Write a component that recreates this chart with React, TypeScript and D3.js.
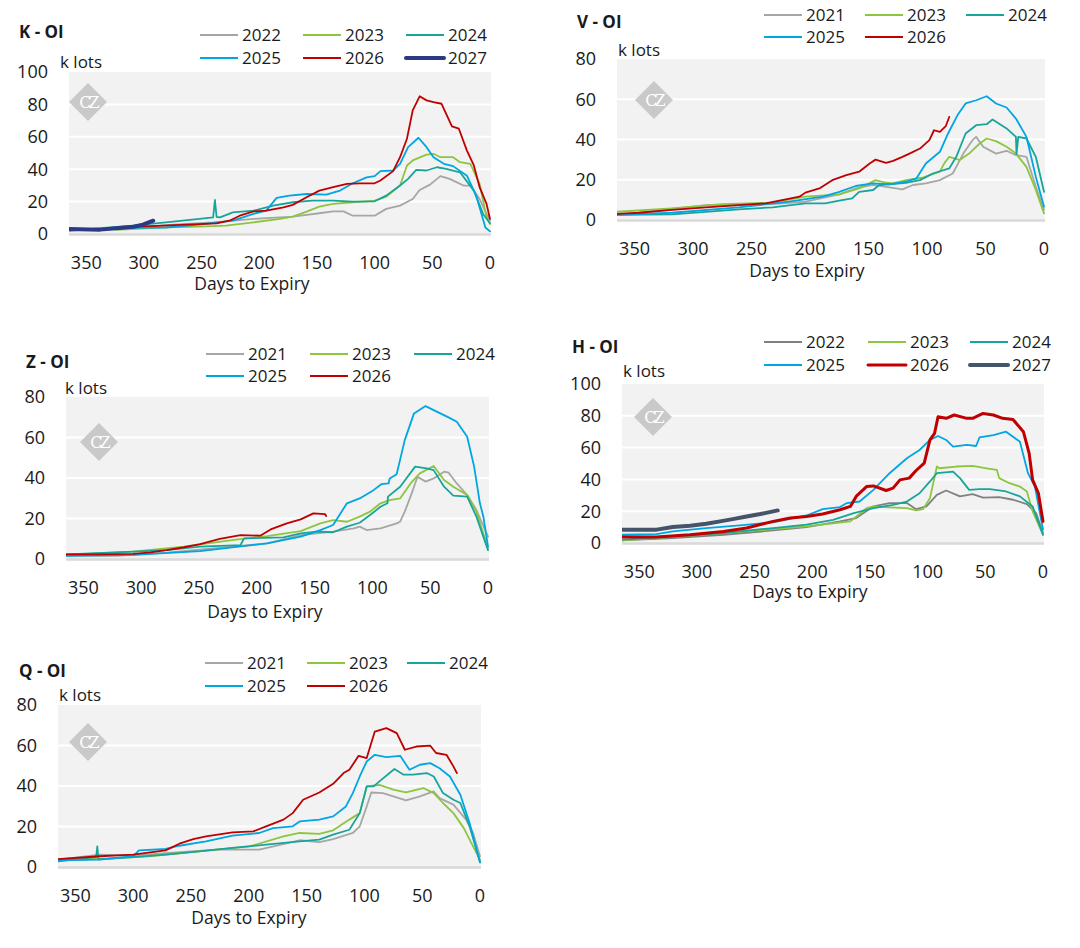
import React from 'react';
import * as d3 from 'd3';

type Pt = [number, number];

// ---- K panel (days to expiry, k lots) ----
const K_2022: Pt[] = [[304, 4.1], [275, 5.8], [240, 7.2], [205, 9.3], [171, 10.7], [148, 12.8], [136, 14], [127, 14], [119, 11.3], [100, 11.3], [90, 15.5], [78, 17.5], [67, 21.6], [61, 27.2], [52, 30.5], [43, 35.7], [35, 34], [23, 29.9], [17, 29.9], [9, 21.6], [3, 12.4], [0, 8.2]];
const K_2023: Pt[] = [[324, 2.5], [281, 4.1], [252, 4.5], [229, 5.2], [205, 7.2], [182, 9.3], [171, 10.7], [159, 13.8], [148, 16.9], [136, 18.6], [119, 19.6], [100, 20.6], [90, 23], [78, 29.9], [72, 42.3], [67, 45.4], [55, 49], [49, 49.5], [43, 47.4], [32, 47.4], [26, 44.3], [17, 43.3], [9, 31], [3, 10.3], [0, 6.2]];
const K_2024: Pt[] = [[365, 2], [310, 5.2], [281, 7.2], [252, 9.3], [240, 10.3], [238.5, 21], [237, 10.5], [234, 10.3], [223, 13.4], [205, 14.4], [188, 17.5], [171, 19.6], [154, 20.6], [136, 20.6], [119, 20], [100, 20.2], [90, 23.7], [78, 29.9], [71, 34], [64, 39.6], [55, 39.2], [46, 41.2], [38, 40.2], [26, 38.1], [14, 26.8], [6, 12.4], [0, 6.6]];
const K_2025: Pt[] = [[365, 2.5], [338, 3], [310, 3.8], [281, 4], [252, 5.8], [223, 8.2], [205, 12.4], [194, 14.4], [185, 22.3], [174, 23.7], [159, 24.7], [142, 24.3], [130, 26.8], [119, 31.3], [107, 35], [100, 35.7], [95, 38.8], [84, 39.2], [78, 43.3], [71, 53.6], [62, 59.4], [55, 53.6], [49, 47.4], [40, 43.3], [32, 41.9], [20, 36], [12, 23.7], [4, 4], [0, 1.6]];
const K_2026: Pt[] = [[310, 4.5], [289, 5], [263, 5.8], [237, 6.6], [226, 8.2], [217, 11.3], [205, 14], [194, 14.4], [179, 16.5], [171, 18], [159, 22.7], [148, 26.8], [136, 28.9], [124, 31], [113, 31.3], [100, 31.3], [95, 33], [84, 38.8], [78, 47.4], [72, 58.8], [67, 76.3], [61, 85], [55, 82.5], [49, 81.4], [42, 80.4], [33, 66.4], [27, 65], [20, 51.5], [14, 42.3], [9, 28.9], [3, 18.6], [0, 9.3]];
const K_2027: Pt[] = [[365, 3.1], [338, 2.7], [324, 3.5], [309, 4.5], [301, 5.8], [292, 8.2]];

// ---- V panel ----
const V_2021: Pt[] = [[365, 2.5], [289, 7.4], [232, 7.9], [204, 9.1], [175, 12.7], [161, 15.7], [146, 17.4], [132, 16.2], [121, 15.2], [112, 17.4], [101, 18.2], [89, 19.8], [78, 23.1], [69, 33], [61, 39.7], [58, 41.3], [52, 36.4], [41, 33], [32, 34.4], [24, 32.2], [15, 31.4], [7, 16.5], [0, 5]];
const V_2023: Pt[] = [[365, 4.1], [318, 5.8], [275, 7.9], [232, 8.6], [204, 11.6], [175, 12.7], [158, 15.7], [144, 19.8], [135, 18.5], [129, 18.2], [118, 19.8], [104, 21], [89, 24], [85, 28.4], [81, 31.4], [72, 29.8], [64, 33], [55, 38], [49, 40.5], [41, 39.2], [32, 36.4], [24, 33], [15, 26.4], [7, 14.9], [0, 3.3]];
const V_2024: Pt[] = [[365, 2.5], [318, 2.8], [289, 4], [261, 5.3], [232, 6.3], [204, 8.3], [187, 8.3], [175, 9.6], [164, 10.7], [158, 14], [146, 14.9], [141, 17.4], [118, 18.5], [106, 19.8], [95, 23.1], [81, 25.6], [75, 31.4], [67, 43], [58, 47.1], [49, 47.6], [44, 49.9], [32, 45.5], [24, 41.3], [23.5, 32.7], [22, 41.3], [15, 40.5], [7, 31.4], [0, 14]];
const V_2025: Pt[] = [[365, 2.5], [318, 3.6], [261, 6.3], [218, 9.1], [189, 11.6], [175, 14], [161, 16.9], [146, 18.2], [132, 17.7], [118, 19], [109, 20.7], [101, 28.1], [89, 33.9], [82, 43], [74, 52], [67, 57.9], [58, 59.5], [49, 61.5], [41, 57.9], [32, 55.9], [24, 50.4], [15, 41.3], [7, 21.5], [0, 6.6]];
const V_2026: Pt[] = [[365, 3], [346, 3.6], [318, 5], [289, 6.3], [261, 7.4], [238, 8.3], [224, 9.9], [209, 11.6], [204, 13.6], [192, 15.7], [181, 19.8], [169, 22.3], [158, 24], [149, 28.1], [144, 30], [135, 28.4], [129, 29.4], [121, 31.4], [115, 33], [106, 35.5], [98, 39.7], [94, 44.6], [89, 43.8], [84, 46.6], [81, 51.2]];

// ---- Z panel ----
const Z_2021: Pt[] = [[365, 1.6], [321, 1.5], [278, 3.1], [235, 5.3], [191, 7.7], [162, 11.8], [134, 13.5], [116, 15.1], [111, 16], [105, 14.3], [93, 15.1], [79, 17.6], [76, 18.4], [72, 23.4], [66, 32.4], [61, 40.6], [54, 38.2], [47, 39.8], [38, 43.1], [34, 42.6], [27, 37.3], [18, 31.6], [10, 24.2], [0, 11]];
const Z_2023: Pt[] = [[365, 2], [307, 3.6], [263, 6.1], [220, 9.4], [191, 11.3], [162, 13.8], [145, 17.6], [134, 19.2], [122, 18.4], [111, 20.9], [102, 23.4], [93, 27.5], [85, 29.1], [76, 29.9], [67, 37.3], [59, 42.3], [47, 45.9], [38, 39], [30, 35.7], [18, 31.6], [10, 23.4], [0, 5.3]];
const Z_2024: Pt[] = [[365, 2.3], [307, 3.6], [278, 4.4], [249, 6.1], [214, 6.9], [211, 10.2], [177, 10.7], [162, 12.7], [148, 13.5], [134, 13.2], [122, 16], [111, 17.9], [102, 21.7], [93, 25.8], [87, 27.5], [86.5, 30.8], [76, 35.7], [63, 45.6], [53, 44.7], [47, 43.9], [38, 35.7], [30, 31.3], [18, 30.8], [10, 20.9], [0, 4.4]];
const Z_2025: Pt[] = [[365, 1.6], [307, 2], [249, 3.9], [191, 7.7], [162, 11], [145, 14.3], [134, 16.8], [122, 27.5], [111, 29.9], [99, 34], [92, 37], [86, 37.3], [85, 39.8], [79, 41.9], [72, 58.7], [64, 71.9], [54, 75.5], [47, 73.5], [35, 70.2], [27, 67.8], [18, 60.4], [12, 45.6], [7, 27.5], [4, 20.9], [0, 6.1]];
const Z_2026: Pt[] = [[365, 2.3], [336, 2.3], [307, 2.5], [292, 3.3], [278, 4.4], [263, 5.8], [249, 7.4], [232, 9.9], [214, 11.8], [197, 11.5], [188, 14.6], [174, 17.6], [162, 19.6], [151, 22.5], [141, 22.2], [140, 21.2]];

// ---- H panel ----
const H_2022: Pt[] = [[365, 1.7], [321, 3.1], [277, 5.2], [234, 7.9], [205, 10], [176, 13.6], [162, 15.7], [147, 23], [133, 25.1], [118, 25.1], [110, 21.3], [101, 23], [92, 30.3], [84, 33], [72, 29.3], [61, 30.7], [52, 28.6], [38, 28.8], [26, 27.2], [14, 24.5], [6, 18.8], [0, 6.3]];
const H_2023: Pt[] = [[365, 1.7], [321, 3.8], [277, 6.3], [234, 8.8], [205, 10.4], [167, 13.6], [153, 21.9], [147, 23], [133, 22.4], [118, 21.9], [110, 20.5], [104, 21.3], [98, 28.2], [92, 48.1], [90, 47], [75, 48.1], [61, 48.5], [49, 47], [40, 46], [38, 40.8], [29, 37.6], [20, 35.5], [14, 32.4], [9, 19.9], [0, 5.2]];
const H_2024: Pt[] = [[365, 2.1], [321, 4.2], [277, 6.3], [234, 9.4], [205, 11.5], [182, 14.6], [164, 18.8], [147, 21.9], [130, 24], [118, 26.1], [107, 31.3], [98, 38.7], [92, 43.9], [87, 44.3], [78, 44.9], [72, 40.8], [64, 33.4], [55, 33.9], [46, 33.9], [32, 32.4], [20, 29.3], [9, 23], [0, 5.2]];
const H_2025: Pt[] = [[365, 5.2], [335, 5.6], [321, 7.3], [292, 9.4], [263, 11.1], [234, 13], [205, 17.3], [191, 21.3], [176, 22.6], [170, 25.1], [159, 26.1], [147, 33.4], [133, 43.9], [118, 53.3], [107, 58.5], [98, 64.8], [91, 67.3], [84, 64.8], [78, 60.6], [66, 61.7], [58, 61], [55, 66.5], [43, 67.9], [32, 70], [20, 63.7], [13, 43.9], [7, 35.5], [0, 8.4]];
const H_2026: Pt[] = [[365, 3.8], [335, 3.8], [306, 5.2], [277, 7.3], [257, 9.4], [234, 13.6], [219, 15.7], [205, 16.7], [191, 18.2], [176, 20.9], [167, 23], [162, 29.3], [153, 35.5], [147, 35.9], [136, 33], [130, 34.5], [124, 39.7], [116, 40.8], [110, 45.6], [103, 50.2], [98, 64.8], [94, 69], [91, 79.4], [84, 78.4], [77, 80.5], [66, 78.4], [61, 78.4], [52, 81.5], [43, 80.5], [35, 78.4], [26, 77.7], [17, 70], [12, 56.4], [9, 39.7], [4, 31.3], [0, 13.6]];
const H_2027: Pt[] = [[365, 8.4], [335, 8.4], [321, 10], [306, 10.9], [292, 12.1], [280, 13.6], [269, 15], [257, 16.7], [245, 18.2], [234, 19.9], [230, 20.5]];

// ---- Q panel ----
const Q_2021: Pt[] = [[365, 3.6], [329, 6.1], [300, 5.6], [272, 6.9], [228, 8.6], [191, 8.6], [156, 13.2], [139, 12.3], [127, 13.8], [110, 16.8], [104, 20.1], [98, 29.9], [94, 36.8], [84, 36.5], [75, 34.9], [64, 32.9], [52, 34.9], [40, 37.3], [35, 34], [23, 30.8], [12, 23.4], [6, 16.8], [0, 5.3]];
const Q_2023: Pt[] = [[365, 3.3], [315, 4.4], [286, 5.3], [243, 7.7], [199, 10.2], [170, 15.1], [156, 16.8], [139, 16.4], [127, 18.1], [113, 23.4], [104, 26.6], [98, 39.8], [87, 40.6], [75, 38.2], [64, 36.8], [49, 39], [40, 36.5], [32, 31.6], [23, 26.6], [14, 19.2], [6, 10.2], [0, 3.6]];
const Q_2024: Pt[] = [[365, 2.8], [332, 4.9], [331, 10.2], [330, 3.8], [300, 4.9], [272, 6.1], [243, 7.7], [214, 9.4], [185, 11], [156, 12.7], [139, 13.5], [127, 16], [113, 18.4], [104, 26.6], [98, 39.8], [92, 39.8], [87, 42.3], [74, 48.4], [66, 45.6], [58, 45.6], [46, 46.4], [40, 44.7], [32, 36.5], [23, 33.2], [17, 31.6], [9, 20.1], [0, 2.3]];
const Q_2025: Pt[] = [[365, 3.3], [329, 3.6], [300, 5.3], [295, 8.2], [272, 8.9], [260, 10.5], [237, 12.7], [214, 15.5], [191, 16.8], [179, 19.2], [162, 20.1], [156, 22.5], [139, 23.4], [127, 25], [116, 29.9], [110, 36.5], [104, 44.7], [98, 52.1], [91, 55.4], [81, 54.3], [69, 54.9], [61, 48], [52, 50.5], [43, 51.3], [35, 48.8], [26, 44.7], [17, 35.7], [9, 21.7], [0, 2.3]];
const Q_2026: Pt[] = [[365, 3.9], [329, 5.3], [300, 6.1], [272, 8.2], [260, 11.5], [248, 13.8], [237, 15.1], [214, 17.1], [196, 17.6], [185, 20.1], [170, 23.4], [162, 26.6], [153, 33.2], [139, 36.8], [127, 41.1], [118, 46.4], [113, 48], [105, 54.9], [98, 53.8], [91, 66.9], [81, 68.6], [72, 66.1], [65, 57.9], [55, 59.5], [43, 59.9], [38, 56.3], [29, 55.4], [23, 49.7], [20, 46.4]];

const xTicks = [350, 300, 250, 200, 150, 100, 50, 0];

const GREY = '#a6a6a6';
const DARK_GREY = '#808080';
const GREEN = '#8cc63f';
const TEAL = '#17a59b';
const BLUE = '#00a6e2';
const RED = '#c00000';
const NAVY = '#2b3986';
const SLATE = '#44546a';

interface Series { name: string; data: Pt[]; color: string; width: number }

interface PanelCfg {
  title: string;
  titlePos: [number, number];
  unitPos: [number, number];
  axisTitlePos: [number, number];
  left: number; right: number; top: number; bottom: number;
  yMax: number;
  mark: [number, number];
  legendRows: [number, number];
  legendCols: number[];
  series: Series[];
}

const FONT = "'Open Sans', 'DejaVu Sans', sans-serif";

const panels: PanelCfg[] = [
  {
    title: 'K - OI', titlePos: [19, 32], unitPos: [60, 62], axisTitlePos: [252, 284],
    left: 69, right: 490, top: 72, bottom: 234, yMax: 100, mark: [88, 102],
    legendRows: [35, 58], legendCols: [200, 303, 406],
    series: [
      { name: '2022', data: K_2022, color: GREY, width: 1.8 },
      { name: '2023', data: K_2023, color: GREEN, width: 1.8 },
      { name: '2024', data: K_2024, color: TEAL, width: 1.8 },
      { name: '2025', data: K_2025, color: BLUE, width: 1.8 },
      { name: '2026', data: K_2026, color: RED, width: 1.8 },
      { name: '2027', data: K_2027, color: NAVY, width: 4 },
    ],
  },
  {
    title: 'V - OI', titlePos: [577, 22], unitPos: [618, 50], axisTitlePos: [807, 271],
    left: 617, right: 1044, top: 59, bottom: 220, yMax: 80, mark: [654, 100],
    legendRows: [15, 37], legendCols: [764, 865, 966],
    series: [
      { name: '2021', data: V_2021, color: GREY, width: 1.8 },
      { name: '2023', data: V_2023, color: GREEN, width: 1.8 },
      { name: '2024', data: V_2024, color: TEAL, width: 1.8 },
      { name: '2025', data: V_2025, color: BLUE, width: 1.8 },
      { name: '2026', data: V_2026, color: RED, width: 1.8 },
    ],
  },
  {
    title: 'Z - OI', titlePos: [26, 362], unitPos: [65, 388], axisTitlePos: [265, 612],
    left: 66, right: 488, top: 397, bottom: 559, yMax: 80, mark: [99, 442],
    legendRows: [354, 376], legendCols: [206, 310, 414],
    series: [
      { name: '2021', data: Z_2021, color: GREY, width: 1.8 },
      { name: '2023', data: Z_2023, color: GREEN, width: 1.8 },
      { name: '2024', data: Z_2024, color: TEAL, width: 1.8 },
      { name: '2025', data: Z_2025, color: BLUE, width: 1.8 },
      { name: '2026', data: Z_2026, color: RED, width: 1.8 },
    ],
  },
  {
    title: 'H - OI', titlePos: [572, 347], unitPos: [623, 371], axisTitlePos: [810, 592],
    left: 622, right: 1043, top: 384, bottom: 543, yMax: 100, mark: [653, 417],
    legendRows: [342, 365], legendCols: [764, 868, 970],
    series: [
      { name: '2022', data: H_2022, color: DARK_GREY, width: 1.8 },
      { name: '2023', data: H_2023, color: GREEN, width: 1.8 },
      { name: '2024', data: H_2024, color: TEAL, width: 1.8 },
      { name: '2025', data: H_2025, color: BLUE, width: 1.8 },
      { name: '2026', data: H_2026, color: RED, width: 3 },
      { name: '2027', data: H_2027, color: SLATE, width: 4 },
    ],
  },
  {
    title: 'Q - OI', titlePos: [19, 671], unitPos: [59, 695], axisTitlePos: [249, 918],
    left: 58, right: 480, top: 705, bottom: 867, yMax: 80, mark: [88, 742],
    legendRows: [663, 686], legendCols: [205, 307, 407],
    series: [
      { name: '2021', data: Q_2021, color: GREY, width: 1.8 },
      { name: '2023', data: Q_2023, color: GREEN, width: 1.8 },
      { name: '2024', data: Q_2024, color: TEAL, width: 1.8 },
      { name: '2025', data: Q_2025, color: BLUE, width: 1.8 },
      { name: '2026', data: Q_2026, color: RED, width: 1.8 },
    ],
  },
];

function Panel({ cfg, idx }: { cfg: PanelCfg; idx: number }) {
  const x = d3.scaleLinear().domain([365, 0]).range([cfg.left, cfg.right]);
  const y = d3.scaleLinear().domain([0, cfg.yMax]).range([cfg.bottom, cfg.top]);
  const yTicks = d3.range(0, cfg.yMax + 1, 20);
  const line = d3.line<Pt>().x((d) => x(d[0])).y((d) => y(d[1]));
  const clipId = `clip-${idx}`;
  const [mx, my] = cfg.mark;

  return (
    <g fontFamily={FONT} fill="#1a1a1a">
      <defs>
        <clipPath id={clipId}>
          <rect x={cfg.left} y={cfg.top - 2} width={cfg.right - cfg.left + 2} height={cfg.bottom - cfg.top + 4} />
        </clipPath>
      </defs>
      <rect x={cfg.left} y={cfg.top} width={cfg.right - cfg.left + 1} height={cfg.bottom - cfg.top} fill="#f2f2f2" />
      {yTicks.filter((t) => t > 0 && t < cfg.yMax).map((t) => (
        <line key={t} x1={cfg.left} x2={cfg.right + 1} y1={y(t)} y2={y(t)} stroke="#ffffff" strokeWidth={2} />
      ))}
      <line x1={cfg.left} x2={cfg.right + 1} y1={cfg.bottom + 0.5} y2={cfg.bottom + 0.5} stroke="#d9d9d9" strokeWidth={2.5} />

      {/* watermark */}
      <g transform={`translate(${mx},${my})`}>
        <polygon points="0,-19 19,0 0,19 -19,0" fill="#c9c9c9" />
        <text x={0} y={6} textAnchor="middle" fontFamily="'DejaVu Serif', serif" fontSize={16} letterSpacing={-3} fill="#ffffff">
          CZ
        </text>
      </g>

      <g clipPath={`url(#${clipId})`}>
        {cfg.series.map((s) => (
          <path key={s.name} d={line(s.data) || ''} fill="none" stroke={s.color} strokeWidth={s.width} strokeLinejoin="round" strokeLinecap="round" />
        ))}
      </g>

      {yTicks.map((t) => (
        <text key={t} x={cfg.left - 21} y={y(t)} dy="0.35em" textAnchor="end" fontSize={18}>
          {t}
        </text>
      ))}
      {xTicks.map((t) => (
        <text key={t} x={x(t)} y={cfg.bottom + 28.5} dy="0.35em" textAnchor="middle" fontSize={18}>
          {t}
        </text>
      ))}
      <text x={cfg.axisTitlePos[0]} y={cfg.axisTitlePos[1]} dy="0.35em" textAnchor="middle" fontSize={17.5}>
        Days to Expiry
      </text>
      <text x={cfg.titlePos[0]} y={cfg.titlePos[1]} dy="0.35em" fontSize={17} fontWeight="bold">
        {cfg.title}
      </text>
      <text x={cfg.unitPos[0]} y={cfg.unitPos[1]} dy="0.35em" fontSize={17}>
        k lots
      </text>

      {cfg.series.map((s, i) => {
        const lx = cfg.legendCols[i % 3];
        const ly = cfg.legendRows[Math.floor(i / 3)];
        return (
          <g key={`lg-${s.name}`}>
            <line x1={lx} x2={lx + 38} y1={ly} y2={ly} stroke={s.color} strokeWidth={s.width > 2 ? s.width : 2} strokeLinecap={s.width > 2 ? 'round' : 'butt'} />
            <text x={lx + 42} y={ly} dy="0.35em" fontSize={17}>
              {s.name}
            </text>
          </g>
        );
      })}
    </g>
  );
}

export default function App() {
  return (
    <svg
      width={1080}
      height={948}
      viewBox="0 0 1080 948"
      style={{ position: 'absolute', left: 0, top: 0, background: '#ffffff' }}
    >
      {panels.map((p, i) => (
        <Panel key={p.title} cfg={p} idx={i} />
      ))}
    </svg>
  );
}
